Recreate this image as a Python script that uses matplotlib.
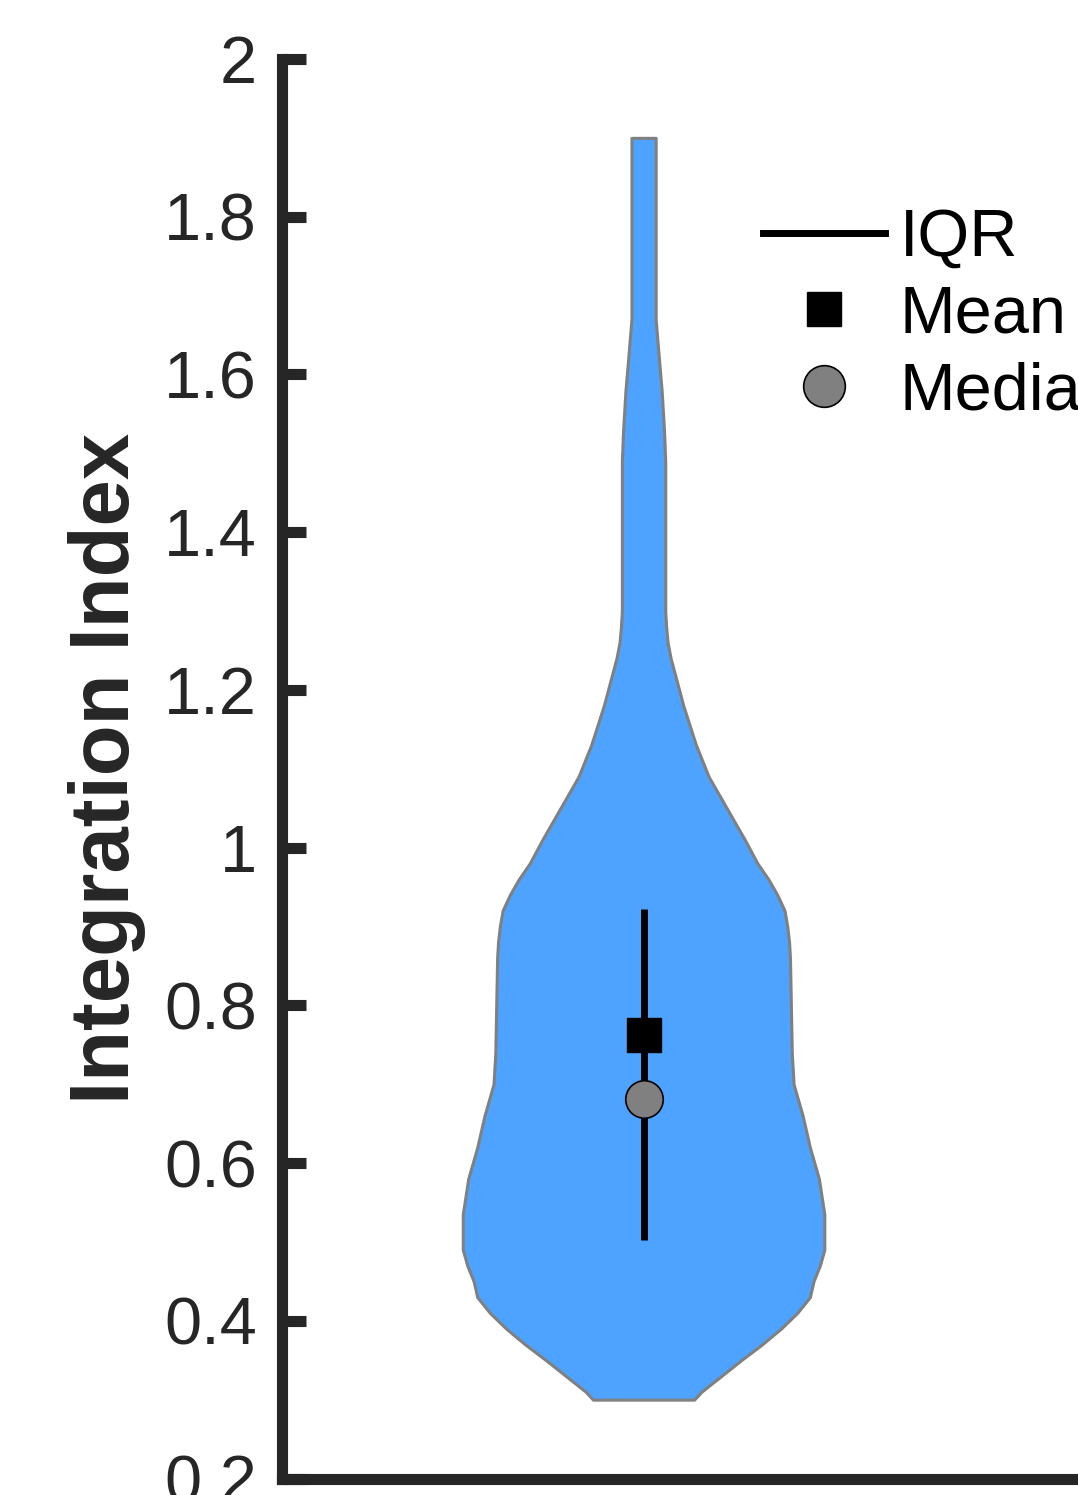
import numpy as np
import matplotlib.pyplot as plt
from matplotlib.lines import Line2D

plt.rcParams['font.family'] = ['Liberation Sans', 'DejaVu Sans']

# violin outline: value levels and relative density (1 = widest)
violin_y = [1.90, 1.67, 1.62, 1.58, 1.53, 1.49, 1.30, 1.28, 1.26, 1.24,
            1.21, 1.18, 1.13, 1.09, 1.05, 1.01, 0.98, 0.96, 0.94, 0.92,
            0.90, 0.88, 0.86, 0.80, 0.74, 0.70, 0.66, 0.62, 0.58, 0.55,
            0.535, 0.51, 0.49, 0.47, 0.45, 0.43, 0.41, 0.39, 0.37, 0.35,
            0.33, 0.31, 0.30]
violin_density = [0.067, 0.067, 0.085, 0.10, 0.113, 0.12, 0.12, 0.125, 0.133, 0.15,
                  0.185, 0.22, 0.29, 0.36, 0.46, 0.56, 0.63, 0.69, 0.74, 0.78,
                  0.795, 0.805, 0.81, 0.815, 0.82, 0.83, 0.88, 0.92, 0.97, 0.99,
                  1.0, 1.0, 1.0, 0.975, 0.94, 0.92, 0.85, 0.76, 0.655, 0.54,
                  0.43, 0.32, 0.28]

# summary statistics
mean_val = 0.763
median_val = 0.681
iqr_low = 0.503
iqr_high = 0.922

y_ticks = [0.2, 0.4, 0.6, 0.8, 1.0, 1.2, 1.4, 1.6, 1.8, 2.0]
y_tick_labels = ['0.2', '0.4', '0.6', '0.8', '1', '1.2', '1.4', '1.6', '1.8', '2']
legend_labels = ['IQR', 'Mean', 'Median']

dark = '#262626'
violin_color = '#4DA3FF'

fig = plt.figure(figsize=(10.78, 14.95), dpi=100)
# axes runs past the right edge of the figure, like the cropped original
ax = fig.add_axes([282 / 1078, 16.5 / 1495, 1065.5 / 1078, 1419.5 / 1495])

# violin body
pos = 1.0
half = 0.5 * np.array(violin_density)
ax.fill_betweenx(violin_y, pos - half, pos + half, facecolor=violin_color,
                 edgecolor='#808080', linewidth=2.2, zorder=2)

# IQR line, mean and median
ax.plot([pos, pos], [iqr_low, iqr_high], color='black', lw=5, zorder=3,
        solid_capstyle='butt')
ax.plot(pos, mean_val, marker='s', ms=24, color='black', ls='none', zorder=4)
ax.plot(pos, median_val, marker='o', ms=27, mfc='#808080', mec='black', mew=1.2,
        ls='none', zorder=5)

ax.set_ylim(0.2, 2.0)
ax.set_xlim(0, 2.947)
ax.set_xticks([])
ax.set_yticks(y_ticks)
ax.set_yticklabels(y_tick_labels)
ax.tick_params(axis='y', direction='in', length=17.3, width=8, pad=18,
               labelsize=48, colors=dark)

for side in ['top', 'right']:
    ax.spines[side].set_visible(False)
for side in ['left', 'bottom']:
    ax.spines[side].set_linewidth(8)
    ax.spines[side].set_color(dark)
    ax.spines[side].set_capstyle('projecting')

ax.set_ylabel('Integration Index', fontsize=60, fontweight='bold', color=dark)
ax.yaxis.set_label_coords(-0.128, 0.5)

# legend
handles = [
    Line2D([], [], color='black', lw=5),
    Line2D([], [], marker='s', ms=24, color='black', ls='none'),
    Line2D([], [], marker='o', ms=30, mfc='#808080', mec='black', mew=1.2, ls='none'),
]
ax.legend(handles, legend_labels, loc='upper left',
          bbox_to_anchor=(763 / 1078, 1 - 208 / 1495), bbox_transform=fig.transFigure,
          frameon=False, fontsize=48, handlelength=1.83, handletextpad=0.22,
          borderpad=0, borderaxespad=0, labelspacing=0.22)

fig.savefig('out.png', dpi=100)
